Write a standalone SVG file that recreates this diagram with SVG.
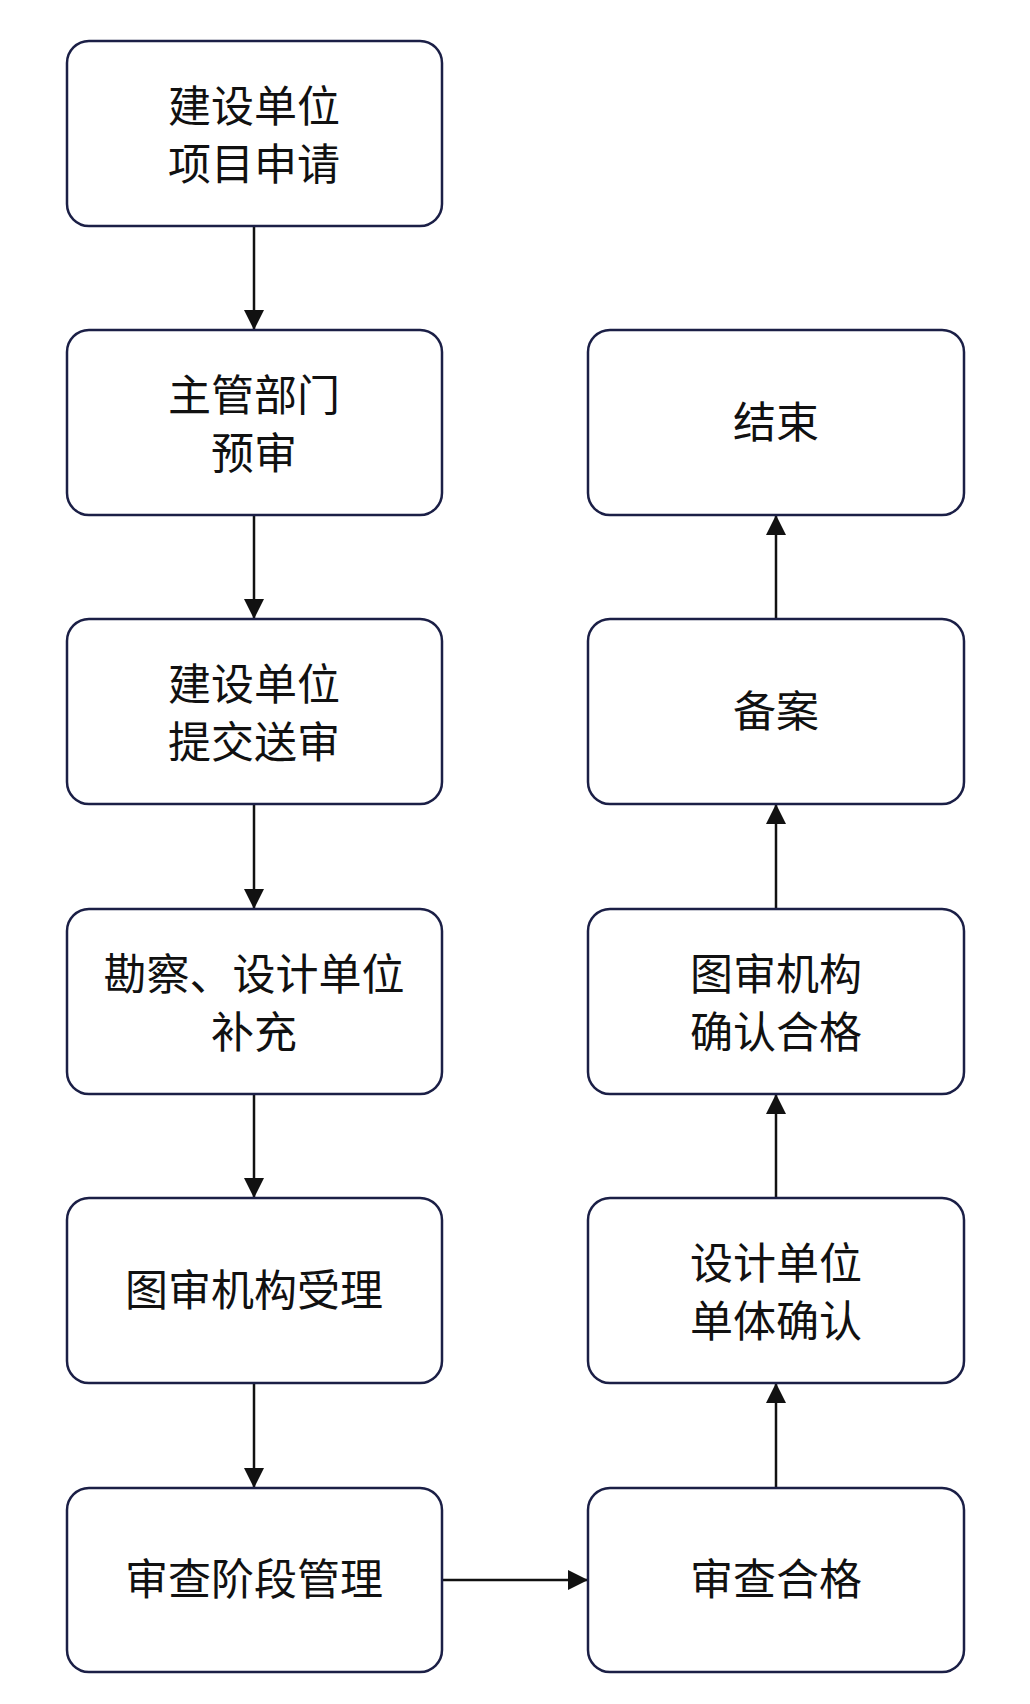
<svg xmlns="http://www.w3.org/2000/svg" width="1030" height="1704" viewBox="0 0 1030 1704">
<style>
.b{fill:#fff;stroke:#1b1f46;stroke-width:2.5}
.t{font-family:"Noto Sans CJK SC",sans-serif;font-size:43px;fill:#111;text-anchor:middle}
.c{stroke:#111;stroke-width:2.5;fill:none;marker-end:url(#a)}
</style>
<defs><marker id="a" viewBox="0 0 10 10" refX="10" refY="5" markerWidth="20" markerHeight="20" markerUnits="userSpaceOnUse" orient="auto"><path d="M0,0L10,5L0,10z" fill="#111"/></marker></defs>
<rect width="1030" height="1704" fill="#fff"/>
<g id="connectors">
<path class="c" d="M254,226V330"/>
<path class="c" d="M254,515V619"/>
<path class="c" d="M254,804V909"/>
<path class="c" d="M254,1094V1198"/>
<path class="c" d="M254,1383V1488"/>
<path class="c" d="M442,1580H588"/>
<path class="c" d="M776,1488V1383"/>
<path class="c" d="M776,1198V1094"/>
<path class="c" d="M776,909V804"/>
<path class="c" d="M776,619V515"/>
</g>
<g id="n1"><rect class="b" x="67" y="41" width="375" height="185" rx="22"/><text class="t" x="254" y="122">建设单位</text><text class="t" x="254" y="180">项目申请</text></g>
<g id="n2"><rect class="b" x="67" y="330" width="375" height="185" rx="22"/><text class="t" x="254" y="411">主管部门</text><text class="t" x="254" y="469">预审</text></g>
<g id="n3"><rect class="b" x="67" y="619" width="375" height="185" rx="22"/><text class="t" x="254" y="700">建设单位</text><text class="t" x="254" y="758">提交送审</text></g>
<g id="n4"><rect class="b" x="67" y="909" width="375" height="185" rx="22"/><text class="t" x="254" y="990">勘察、设计单位</text><text class="t" x="254" y="1048">补充</text></g>
<g id="n5"><rect class="b" x="67" y="1198" width="375" height="185" rx="22"/><text class="t" x="254" y="1306">图审机构受理</text></g>
<g id="n6"><rect class="b" x="67" y="1488" width="375" height="184" rx="22"/><text class="t" x="254" y="1595">审查阶段管理</text></g>
<g id="n7"><rect class="b" x="588" y="1488" width="376" height="184" rx="22"/><text class="t" x="776" y="1595">审查合格</text></g>
<g id="n8"><rect class="b" x="588" y="1198" width="376" height="185" rx="22"/><text class="t" x="776" y="1279">设计单位</text><text class="t" x="776" y="1337">单体确认</text></g>
<g id="n9"><rect class="b" x="588" y="909" width="376" height="185" rx="22"/><text class="t" x="776" y="990">图审机构</text><text class="t" x="776" y="1048">确认合格</text></g>
<g id="n10"><rect class="b" x="588" y="619" width="376" height="185" rx="22"/><text class="t" x="776" y="727">备案</text></g>
<g id="n11"><rect class="b" x="588" y="330" width="376" height="185" rx="22"/><text class="t" x="776" y="438">结束</text></g>
</svg>
